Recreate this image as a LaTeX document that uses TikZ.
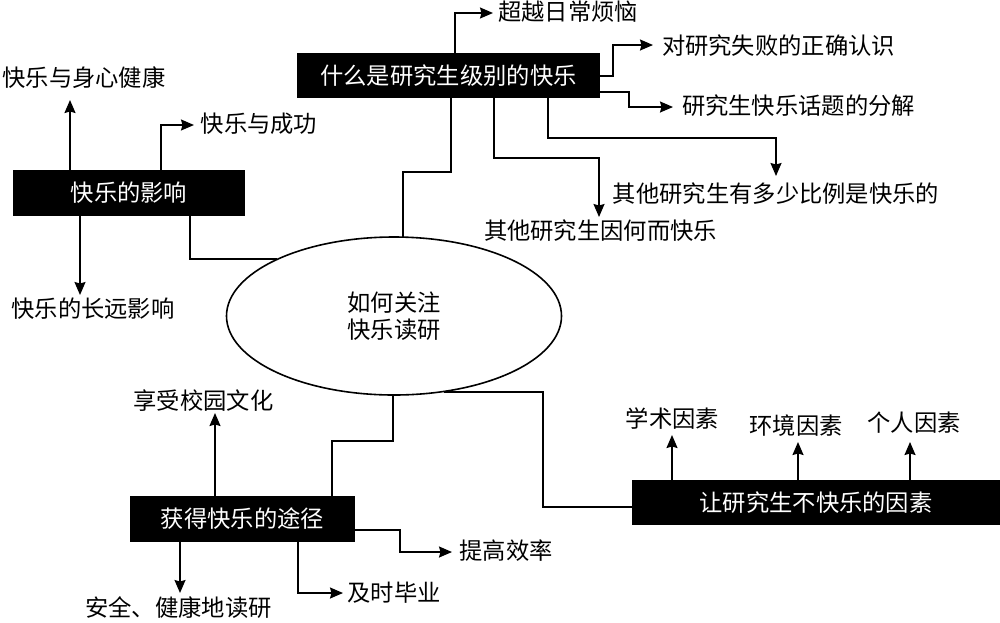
\documentclass[tikz,border=0pt]{standalone}
\usepackage{fontspec}
\setmainfont{Noto Sans CJK SC}
\usetikzlibrary{arrows.meta,calc,shapes.geometric}
\tikzset{
  x=1pt,y=-1pt,
  lbl/.style={inner sep=0pt,font=\fontsize{23.3}{27.5}\selectfont,text=black},
  blackbox/.style={fill=black,draw=none,inner sep=0pt,text=white,font=\fontsize{23.3}{27.5}\selectfont},
  line/.style={draw=black,line width=1.6pt,line join=miter},
  arr/.style={line,-{Stealth[length=13pt,width=11pt,inset=1.5pt]}},
  oval/.style={ellipse,draw=black,line width=1.6pt,fill=white,inner sep=0pt,minimum width=335pt,minimum height=158pt,font=\fontsize{23.3}{27.5}\selectfont,align=center}
}
\begin{document}
\begin{tikzpicture}
\useasboundingbox (0,0) rectangle (1000,622);
\node[blackbox,minimum width=303pt,minimum height=45pt] (top) at (448.5,75.5) {什么是研究生级别的快乐};
\node[blackbox,minimum width=232pt,minimum height=46pt] (left) at (129,193) {快乐的影响};
\node[blackbox,minimum width=225pt,minimum height=46pt] (bot) at (242.5,519) {获得快乐的途径};
\node[blackbox,minimum width=368pt,minimum height=45pt] (rgt) at (816,502.5) {让研究生不快乐的因素};
\node[oval] (hub) at (394,316) {如何关注\\快乐读研};

\node[lbl] (t1) at (568,12) {超越日常烦恼};
\node[lbl] (t2) at (778.5,46) {对研究失败的正确认识};
\node[lbl] (t3) at (798.5,106) {研究生快乐话题的分解};
\node[lbl] (t4) at (776,194) {其他研究生有多少比例是快乐的};
\node[lbl] (t5) at (600.5,231) {其他研究生因何而快乐};
\node[lbl] (l1) at (84,78) {快乐与身心健康};
\node[lbl] (l2) at (259,124) {快乐与成功};
\node[lbl] (l3) at (93,309) {快乐的长远影响};
\node[lbl] (b1) at (203.5,401) {享受校园文化};
\node[lbl] (b2) at (178.5,608) {安全、健康地读研};
\node[lbl] (b3) at (394,593) {及时毕业};
\node[lbl] (b4) at (506,551) {提高效率};
\node[lbl] (r1) at (672.5,419) {学术因素};
\node[lbl] (r2) at (796,426) {环境因素};
\node[lbl] (r3) at (914,423) {个人因素};

% top box
\coordinate (a1) at ($(top.north)+(6.5,0)$);   \coordinate (a1e) at ($(t1.center)+(-75,1)$);
\draw[arr] (a1) |- (a1e);
\coordinate (a2) at ($(top.east)+(0,0.5)$);  \coordinate (a2m) at ($(a2)+(13,0)$); \coordinate (a2e) at ($(t2.center)+(-125.5,-1)$);
\draw[arr] (a2) -- (a2m) |- (a2e);
\coordinate (a3) at ($(top.east)+(0,16.5)$);  \coordinate (a3m) at ($(a3)+(29,0)$); \coordinate (a3e) at ($(t3.center)+(-125.5,1)$);
\draw[arr] (a3) -- (a3m) |- (a3e);
\coordinate (a4) at ($(top.south)+(99.5,0)$); \coordinate (a4m) at ($(a4)+(0,40)$); \coordinate (a4e) at ($(t4.center)+(0,-18)$);
\coordinate (a4n) at (a4e |- a4m);
\draw[arr] (a4) -- (a4m) -- (a4n) -- (a4e);
\coordinate (a5) at ($(top.south)+(45.5,0)$); \coordinate (a5m) at ($(a5)+(0,60)$); \coordinate (a5e) at ($(t5.center)+(-1.5,-14)$);
\coordinate (a5n) at (a5e |- a5m);
\draw[arr] (a5) -- (a5m) -- (a5n) -- (a5e);
\coordinate (a6) at ($(top.south)+(2.5,0)$); \coordinate (a6m) at ($(a6)+(0,74)$); \coordinate (a6e) at ($(hub.north)+(9,0.3)$);
\coordinate (a6n) at (a6e |- a6m);
\draw[line] (a6) -- (a6m) -- (a6n) -- (a6e);
% left box
\coordinate (c1) at ($(left.north)+(-59,0)$); \coordinate (c1e) at ($(l1.center)+(-14,22)$);
\draw[arr] (c1) -- (c1e);
\coordinate (c2) at ($(left.north)+(32,0)$); \coordinate (c2e) at ($(l2.center)+(-65,1)$);
\draw[arr] (c2) |- (c2e);
\coordinate (c3) at ($(left.south)+(-49,0)$); \coordinate (c3e) at ($(l3.center)+(-13,-14)$);
\draw[arr] (c3) -- (c3e);
\coordinate (c4) at ($(left.south)+(61,0)$);
\draw[line] (c4) |- (hub.154);
% bottom box
\coordinate (d1) at ($(bot.north)+(-27.5,0)$); \coordinate (d1e) at ($(b1.center)+(11.5,12)$);
\draw[arr] (d1) -- (d1e);
\coordinate (d2) at ($(bot.south)+(-62.5,0)$); \coordinate (d2e) at ($(b2.center)+(1.5,-15)$);
\draw[arr] (d2) -- (d2e);
\coordinate (d3) at ($(bot.south)+(55.5,0)$); \coordinate (d3e) at ($(b3.center)+(-51,0)$);
\draw[arr] (d3) |- (d3e);
\coordinate (d4) at ($(bot.east)+(0,11)$); \coordinate (d4m) at ($(d4)+(45,0)$); \coordinate (d4e) at ($(b4.center)+(-54,1)$);
\draw[arr] (d4) -- (d4m) |- (d4e);
\coordinate (d5) at ($(bot.north)+(89.5,0)$); \coordinate (d5m) at ($(d5)+(0,-55)$); \coordinate (d5e) at ($(hub.south)+(-1,-0.3)$);
\coordinate (d5n) at (d5e |- d5m);
\draw[line] (d5) -- (d5m) -- (d5n) -- (d5e);
% right box
\coordinate (e0m) at (543,391.5 -| rgt.west);
\coordinate (e0x) at ($(rgt.west)+(-89,4.5)$);
\coordinate (e0y) at (e0x |- hub.-57);
\draw[line] (hub.-57) -- (e0y) -- (e0x) -- ($(rgt.west)+(0,4.5)$);
\coordinate (e1) at ($(rgt.north)+(-144,0)$); \coordinate (e1e) at ($(r1.center)+(-0.5,16)$);
\draw[arr] (e1) -- (e1e);
\coordinate (e2) at ($(rgt.north)+(-18,0)$); \coordinate (e2e) at ($(r2.center)+(2,16)$);
\draw[arr] (e2) -- (e2e);
\coordinate (e3) at ($(rgt.north)+(94,0)$); \coordinate (e3e) at ($(r3.center)+(-4,19)$);
\draw[arr] (e3) -- (e3e);
\end{tikzpicture}
\end{document}
